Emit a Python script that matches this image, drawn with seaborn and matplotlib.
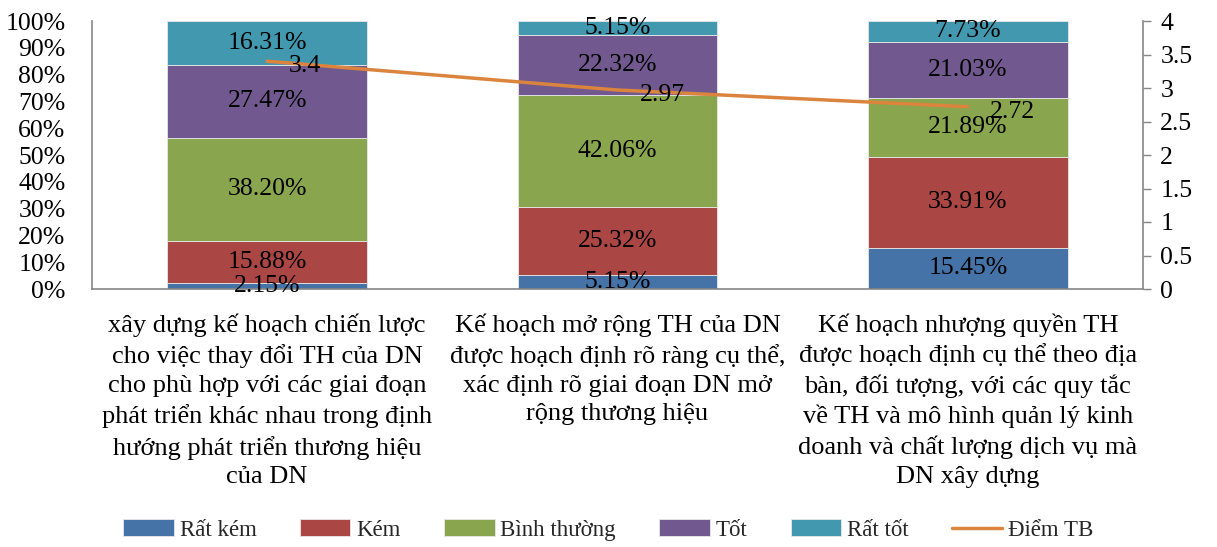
import matplotlib
matplotlib.use("Agg")
import matplotlib.pyplot as plt
import seaborn as sns
import numpy as np
import pandas as pd

# Survey results per statement (percent of respondents)
categories = [
    "xây dựng kế hoạch chiến lược\ncho việc thay đổi TH của DN\ncho phù hợp với các giai đoạn\nphát triển khác nhau trong định\nhướng phát triển thương hiệu\ncủa DN",
    "Kế hoạch mở rộng TH của DN\nđược hoạch định rõ ràng cụ thể,\nxác định rõ giai đoạn DN mở\nrộng thương hiệu",
    "Kế hoạch nhượng quyền TH\nđược hoạch định cụ thể theo địa\nbàn, đối tượng, với các quy tắc\nvề TH và mô hình quản lý kinh\ndoanh và chất lượng dịch vụ mà\nDN xây dựng",
]
levels = ["Rất kém", "Kém", "Bình thường", "Tốt", "Rất tốt"]
rat_kem = [2.15, 5.15, 15.45]
kem = [15.88, 25.32, 33.91]
binh_thuong = [38.20, 42.06, 21.89]
tot = [27.47, 22.32, 21.03]
rat_tot = [16.31, 5.15, 7.73]
diem_tb = [3.4, 2.97, 2.72]
line_label = "Điểm TB"

colors = ["#4572A7", "#AA4643", "#89A54E", "#71588F", "#4198AF"]
line_color = "#DB843D"
axis_gray = "#868686"
FS = 18.5

sns.set_theme(style="white")
plt.rcParams["font.family"] = ["Liberation Serif", "DejaVu Serif"]
plt.rcParams["font.size"] = FS

fig = plt.figure(figsize=(12.17, 5.47), dpi=100)
ax = fig.add_axes([92 / 1217, 1 - 289 / 547, (1143 - 92) / 1217, (289 - 21) / 547])

series = [rat_kem, kem, binh_thuong, tot, rat_tot]
xpos = list(range(len(categories)))
bottom = np.zeros(len(categories))
for name, vals, col in zip(levels, series, colors):
    df = pd.DataFrame({"cat": xpos, "val": vals})
    sns.barplot(data=df, x="cat", y="val", bottom=bottom, color=col, width=0.57,
                saturation=1, ax=ax, label=name, linewidth=0.6, edgecolor="#e8e8e8")
    for i, v in enumerate(vals):
        ax.text(i, bottom[i] + v / 2, f"{v:.2f}%", ha="center", va="center",
                fontsize=FS, color="black")
    bottom = bottom + np.array(vals)

ax.set_ylim(0, 100)
ax.set_xlim(-0.5, len(categories) - 0.5)
ax.set_yticks(np.arange(0, 101, 10))
ax.set_yticklabels([f"{t}%" for t in range(0, 101, 10)])
ax.set_xticks(xpos)
ax.set_xticklabels(categories, linespacing=1.39)
ax.tick_params(axis="y", length=0, pad=19, labelsize=FS, colors="black")
ax.tick_params(axis="x", length=0, pad=17.5, labelsize=19, colors="black")
ax.set_xlabel("")
ax.set_ylabel("")
for s in ["top", "right"]:
    ax.spines[s].set_visible(False)
for s in ["left", "bottom"]:
    ax.spines[s].set_color(axis_gray)
    ax.spines[s].set_linewidth(1.2)

# Average score on the secondary axis
ax2 = ax.twinx()
sns.lineplot(x=xpos, y=diem_tb, color=line_color, linewidth=2.5, ax=ax2,
             label=line_label, legend=False)
for i, v in enumerate(diem_tb):
    ax2.annotate(f"{v:g}", (i, v), xytext=(22, -5), textcoords="offset pixels",
                 ha="left", va="center", fontsize=FS, color="black")
ax2.set_ylim(0, 4)
ax2.set_yticks(np.arange(0, 4.01, 0.5))
ax2.set_yticklabels([f"{t:g}" for t in np.arange(0, 4.01, 0.5)])
ax2.tick_params(axis="y", length=6, width=1, pad=6.5, labelsize=FS,
                colors=axis_gray, labelcolor="black")
ax2.grid(False)
for s in ["top", "left", "bottom"]:
    ax2.spines[s].set_visible(False)
ax2.spines["right"].set_color(axis_gray)
ax2.spines["right"].set_linewidth(1.2)

h1, l1 = ax.get_legend_handles_labels()
h2, l2 = ax2.get_legend_handles_labels()
if ax.get_legend():
    ax.get_legend().remove()
fig.legend(h1 + h2, l1 + l2, loc="center", bbox_to_anchor=(0.5, 1 - 530 / 547),
           ncol=6, frameon=False, fontsize=16.5, handlelength=2.2, handleheight=0.75,
           columnspacing=1.9, handletextpad=0.25)

fig.savefig("out.png", dpi=100)
